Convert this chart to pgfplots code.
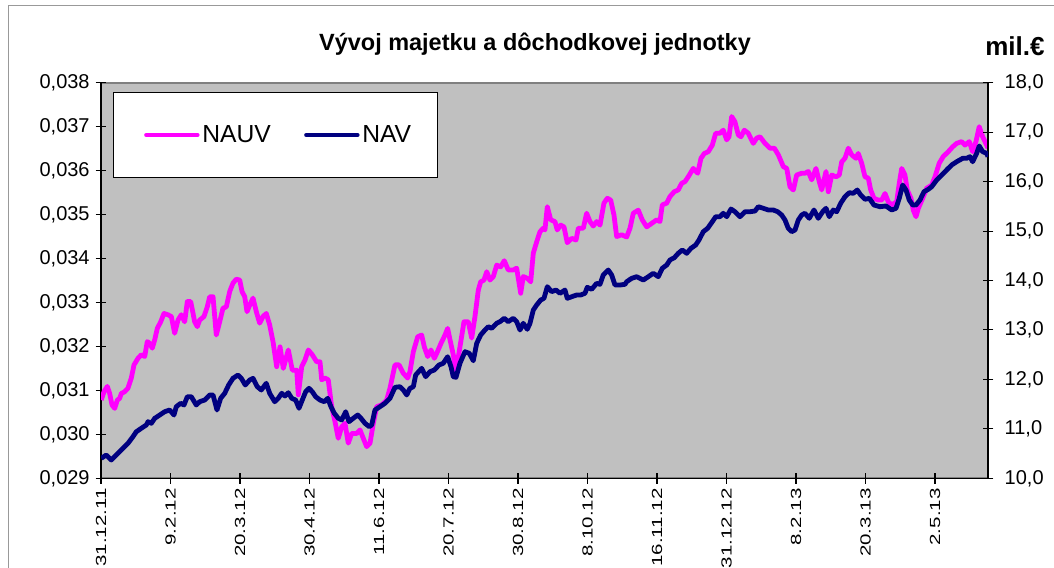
\documentclass[border=0pt]{standalone}
\usepackage{fontspec}
\setmainfont{Liberation Sans}
\usepackage{graphicx}
\usepackage{pgfplots}
\pgfplotsset{compat=1.18}
\usepackage{pgfplotstable}
\definecolor{nauvc}{RGB}{255,0,255}
\definecolor{navc}{RGB}{0,0,128}
\definecolor{plotbg}{RGB}{192,192,192}
\pgfplotstableread{
t v
0.004 0.03078
0.043 0.03097
0.091 0.03109
0.125 0.03093
0.158 0.03067
0.197 0.03059
0.235 0.03078
0.269 0.03082
0.292 0.03093
0.341 0.03097
0.388 0.03105
0.436 0.03128
0.475 0.03158
0.532 0.03173
0.580 0.03181
0.629 0.03177
0.666 0.03211
0.701 0.03207
0.738 0.03196
0.773 0.03215
0.810 0.03241
0.859 0.03256
0.906 0.03275
0.964 0.03272
1.012 0.03268
1.060 0.03230
1.108 0.03260
1.155 0.03272
1.204 0.03256
1.242 0.03302
1.291 0.03302
1.348 0.03256
1.386 0.03245
1.420 0.03260
1.482 0.03268
1.529 0.03290
1.564 0.03313
1.612 0.03313
1.659 0.03226
1.708 0.03256
1.755 0.03287
1.803 0.03290
1.852 0.03325
1.899 0.03344
1.947 0.03353
1.996 0.03351
2.029 0.03325
2.068 0.03313
2.101 0.03279
2.140 0.03294
2.187 0.03310
2.235 0.03279
2.283 0.03253
2.331 0.03268
2.378 0.03275
2.427 0.03249
2.475 0.03211
2.528 0.03154
2.576 0.03199
2.623 0.03150
2.695 0.03192
2.753 0.03146
2.816 0.03146
2.839 0.03090
2.888 0.03154
2.935 0.03169
2.983 0.03192
3.040 0.03181
3.104 0.03165
3.151 0.03165
3.176 0.03124
3.223 0.03128
3.270 0.03124
3.319 0.03063
3.367 0.03029
3.414 0.02991
3.463 0.03017
3.511 0.03025
3.558 0.02980
3.607 0.03002
3.679 0.03002
3.727 0.03010
3.774 0.02991
3.823 0.02972
3.871 0.02980
3.918 0.03025
3.967 0.03063
4.039 0.03067
4.111 0.03078
4.158 0.03105
4.230 0.03158
4.288 0.03158
4.350 0.03139
4.413 0.03128
4.446 0.03143
4.494 0.03188
4.557 0.03222
4.614 0.03226
4.652 0.03199
4.701 0.03177
4.748 0.03192
4.796 0.03173
4.830 0.03184
4.892 0.03207
4.950 0.03226
4.988 0.03241
5.022 0.03215
5.069 0.03181
5.108 0.03143
5.165 0.03199
5.223 0.03256
5.285 0.03256
5.334 0.03219
5.381 0.03268
5.429 0.03328
5.463 0.03347
5.511 0.03351
5.550 0.03370
5.597 0.03351
5.645 0.03359
5.694 0.03385
5.751 0.03381
5.803 0.03395
5.860 0.03374
5.932 0.03374
5.981 0.03378
6.039 0.03321
6.076 0.03359
6.134 0.03355
6.183 0.03347
6.220 0.03412
6.269 0.03438
6.317 0.03461
6.364 0.03469
6.388 0.03465
6.422 0.03518
6.471 0.03488
6.532 0.03484
6.565 0.03465
6.614 0.03476
6.662 0.03472
6.709 0.03436
6.773 0.03446
6.835 0.03442
6.868 0.03469
6.940 0.03469
6.988 0.03503
7.036 0.03484
7.083 0.03474
7.132 0.03484
7.180 0.03476
7.237 0.03526
7.285 0.03537
7.334 0.03533
7.381 0.03499
7.420 0.03450
7.492 0.03454
7.564 0.03449
7.612 0.03469
7.659 0.03503
7.731 0.03510
7.788 0.03488
7.852 0.03472
7.924 0.03480
7.996 0.03488
8.043 0.03484
8.076 0.03522
8.140 0.03526
8.187 0.03541
8.249 0.03552
8.306 0.03556
8.355 0.03571
8.403 0.03575
8.450 0.03586
8.522 0.03605
8.586 0.03594
8.633 0.03628
8.681 0.03639
8.738 0.03643
8.796 0.03658
8.845 0.03685
8.906 0.03685
8.954 0.03692
9.003 0.03670
9.036 0.03677
9.075 0.03723
9.122 0.03711
9.170 0.03681
9.209 0.03677
9.256 0.03692
9.314 0.03685
9.386 0.03662
9.435 0.03674
9.482 0.03677
9.554 0.03662
9.626 0.03651
9.688 0.03651
9.746 0.03636
9.818 0.03609
9.867 0.03605
9.914 0.03563
9.962 0.03556
10.010 0.03590
10.082 0.03594
10.129 0.03594
10.177 0.03598
10.226 0.03579
10.288 0.03605
10.335 0.03575
10.370 0.03556
10.432 0.03598
10.465 0.03552
10.514 0.03590
10.576 0.03586
10.623 0.03590
10.658 0.03620
10.705 0.03628
10.753 0.03651
10.801 0.03636
10.863 0.03628
10.896 0.03639
10.945 0.03617
10.993 0.03586
11.040 0.03583
11.075 0.03556
11.122 0.03537
11.184 0.03533
11.233 0.03533
11.281 0.03548
11.328 0.03529
11.377 0.03522
11.449 0.03529
11.486 0.03571
11.521 0.03605
11.568 0.03590
11.601 0.03556
11.655 0.03537
11.688 0.03510
11.727 0.03495
11.760 0.03514
11.823 0.03537
11.881 0.03560
11.953 0.03567
12.000 0.03586
12.062 0.03617
12.119 0.03632
12.191 0.03643
12.254 0.03654
12.312 0.03662
12.384 0.03666
12.432 0.03658
12.494 0.03666
12.542 0.03643
12.590 0.03666
12.637 0.03700
12.686 0.03677
12.744 0.03658
12.763 0.03651
}\nauvdata
\pgfplotstableread{
t v
0.004 10.404
0.076 10.471
0.148 10.370
0.220 10.471
0.292 10.572
0.388 10.708
0.460 10.841
0.508 10.942
0.580 11.011
0.652 11.078
0.676 11.145
0.724 11.112
0.773 11.213
0.845 11.280
0.917 11.347
0.988 11.381
1.050 11.280
1.083 11.448
1.147 11.517
1.194 11.482
1.242 11.650
1.299 11.650
1.371 11.482
1.420 11.549
1.492 11.583
1.564 11.685
1.612 11.685
1.669 11.381
1.722 11.618
1.780 11.719
1.837 11.887
1.899 12.022
1.971 12.089
2.019 12.022
2.076 11.887
2.140 11.988
2.187 12.022
2.249 11.852
2.306 11.786
2.378 11.921
2.427 11.719
2.499 11.549
2.551 11.618
2.600 11.719
2.647 11.664
2.695 11.731
2.744 11.618
2.801 11.583
2.849 11.416
2.896 11.583
2.945 11.751
2.993 11.820
3.040 11.751
3.089 11.650
3.151 11.583
3.213 11.549
3.262 11.618
3.309 11.448
3.357 11.314
3.414 11.213
3.463 11.179
3.521 11.347
3.568 11.145
3.630 11.213
3.694 11.280
3.741 11.213
3.799 11.112
3.860 11.044
3.895 11.078
3.942 11.381
4.014 11.448
4.086 11.517
4.158 11.618
4.230 11.840
4.302 11.852
4.350 11.786
4.399 11.685
4.446 11.820
4.494 11.852
4.528 12.089
4.614 12.224
4.672 12.055
4.734 12.156
4.796 12.190
4.863 12.291
4.925 12.326
4.988 12.459
5.036 12.257
5.069 12.055
5.108 12.042
5.165 12.326
5.237 12.560
5.299 12.528
5.357 12.378
5.406 12.730
5.463 12.898
5.525 12.999
5.573 13.066
5.622 13.033
5.694 13.135
5.741 13.167
5.803 13.236
5.860 13.167
5.932 13.236
5.981 13.167
6.029 12.999
6.076 13.135
6.134 13.013
6.173 13.135
6.220 13.403
6.269 13.505
6.327 13.606
6.374 13.640
6.422 13.875
6.485 13.774
6.547 13.808
6.604 13.741
6.676 13.808
6.709 13.640
6.773 13.672
6.845 13.707
6.902 13.707
6.964 13.741
6.997 13.863
7.060 13.822
7.132 13.943
7.180 13.923
7.227 14.111
7.299 14.212
7.348 14.111
7.396 13.909
7.468 13.909
7.540 13.923
7.564 13.976
7.636 14.044
7.708 14.077
7.803 14.010
7.875 14.077
7.947 14.146
8.019 14.077
8.076 14.247
8.140 14.313
8.187 14.415
8.249 14.461
8.306 14.550
8.364 14.617
8.427 14.550
8.489 14.651
8.557 14.718
8.604 14.819
8.666 14.987
8.729 15.056
8.796 15.189
8.845 15.290
8.906 15.290
8.954 15.359
9.003 15.290
9.065 15.446
9.122 15.391
9.194 15.290
9.266 15.391
9.338 15.391
9.410 15.405
9.458 15.492
9.530 15.460
9.602 15.426
9.673 15.426
9.737 15.391
9.794 15.325
9.842 15.223
9.889 15.056
9.938 14.987
9.986 15.021
10.033 15.223
10.082 15.325
10.129 15.359
10.191 15.258
10.259 15.426
10.321 15.258
10.384 15.391
10.432 15.460
10.479 15.290
10.537 15.426
10.586 15.391
10.643 15.561
10.705 15.695
10.767 15.776
10.824 15.763
10.882 15.830
10.931 15.729
10.993 15.642
11.055 15.662
11.122 15.527
11.209 15.492
11.295 15.507
11.377 15.426
11.439 15.460
11.486 15.662
11.535 15.931
11.583 15.830
11.630 15.628
11.679 15.527
11.727 15.527
11.784 15.628
11.842 15.796
11.904 15.844
11.953 15.897
12.025 16.032
12.097 16.133
12.168 16.235
12.240 16.336
12.312 16.402
12.399 16.471
12.456 16.471
12.504 16.504
12.542 16.402
12.600 16.572
12.637 16.720
12.686 16.605
12.744 16.572
12.763 16.504
}\navdata
\newcommand\xl[1]{\scalebox{1.4}[1]{#1}}
\begin{document}
\begin{tikzpicture}
\useasboundingbox (0pt,0pt) rectangle (790.5pt,426pt);
\draw[gray!80, line width=0.75pt] (6pt,-5pt) -- (6pt,421.5pt) -- (795pt,421.5pt);
\node[font=\fontsize{17.6}{20}\selectfont\bfseries] at (401.25pt,393pt) {Vývoj majetku a dôchodkovej jednotky};
\node[font=\fontsize{19.5}{22}\selectfont\bfseries] at (761.25pt,391.5pt) {mil.€};
\begin{axis}[
  at={(75.75pt,67.275pt)}, anchor=south west,
  scale only axis, width=665.25pt, height=296.7pt,
  xmin=0, xmax=12.763, ymin=0.029, ymax=0.038,
  axis x line*=bottom, axis y line*=left,
  axis line style={black, line width=0.8pt, -},
  axis background/.style={fill=plotbg, draw=gray, line width=1.5pt},
  xtick={0,1,2,3,4,5,6,7,8,9,10,11,12},
  xticklabels={\xl{31.12.11},\xl{9.2.12},\xl{20.3.12},\xl{30.4.12},\xl{11.6.12},\xl{20.7.12},\xl{30.8.12},\xl{8.10.12},\xl{16.11.12},\xl{31.12.12},\xl{8.2.13},\xl{20.3.13},\xl{2.5.13}},
  x tick label style={rotate=90, anchor=east, font=\fontsize{11}{13}\selectfont},
  ytick={0.029,0.030,0.031,0.032,0.033,0.034,0.035,0.036,0.037,0.038},
  scaled y ticks=false,
  yticklabel style={/pgf/number format/fixed, /pgf/number format/fixed zerofill, /pgf/number format/precision=3, /pgf/number format/use comma, font=\fontsize{15}{18}\selectfont, xshift=-1pt},
  /pgf/number format/assume math mode=true,
  tick align=center, major tick length=8pt,
  tick style={black, line width=0.8pt},
]
\addplot[nauvc, line width=3.6pt, line join=round] table[x=t,y=v]{\nauvdata};
\end{axis}
\begin{axis}[
  at={(75.75pt,67.275pt)}, anchor=south west,
  scale only axis, width=665.25pt, height=296.7pt,
  xmin=0, xmax=12.763, ymin=10, ymax=18,
  axis x line=none, axis y line*=right,
  axis line style={black, line width=0.8pt, -},
  ytick={10,11,12,13,14,15,16,17,18},
  yticklabel style={/pgf/number format/fixed, /pgf/number format/fixed zerofill, /pgf/number format/precision=1, /pgf/number format/use comma, font=\fontsize{15}{18}\selectfont, xshift=5pt},
  /pgf/number format/assume math mode=true,
  tick align=center, major tick length=8pt,
  tick style={black, line width=0.8pt},
  legend columns=2,
  legend style={at={(0.0135,0.9765)}, anchor=north west, draw=black, line width=0.75pt, fill=white,
    font=\fontsize{18.5}{21}\selectfont, inner xsep=18pt, inner ysep=22.75pt,
    /tikz/every even column/.append style={column sep=18pt}},
  legend image code/.code={\path (0pt,0pt); \draw[#1, line cap=round] (5pt,0pt) -- (43pt,0pt);},
]
\addlegendimage{nauvc, line width=3.6pt}
\addlegendentry{NAUV}
\addplot[navc, line width=3.6pt, line join=round] table[x=t,y=v]{\navdata};
\addlegendentry{NAV}
\end{axis}
\end{tikzpicture}
\end{document}
